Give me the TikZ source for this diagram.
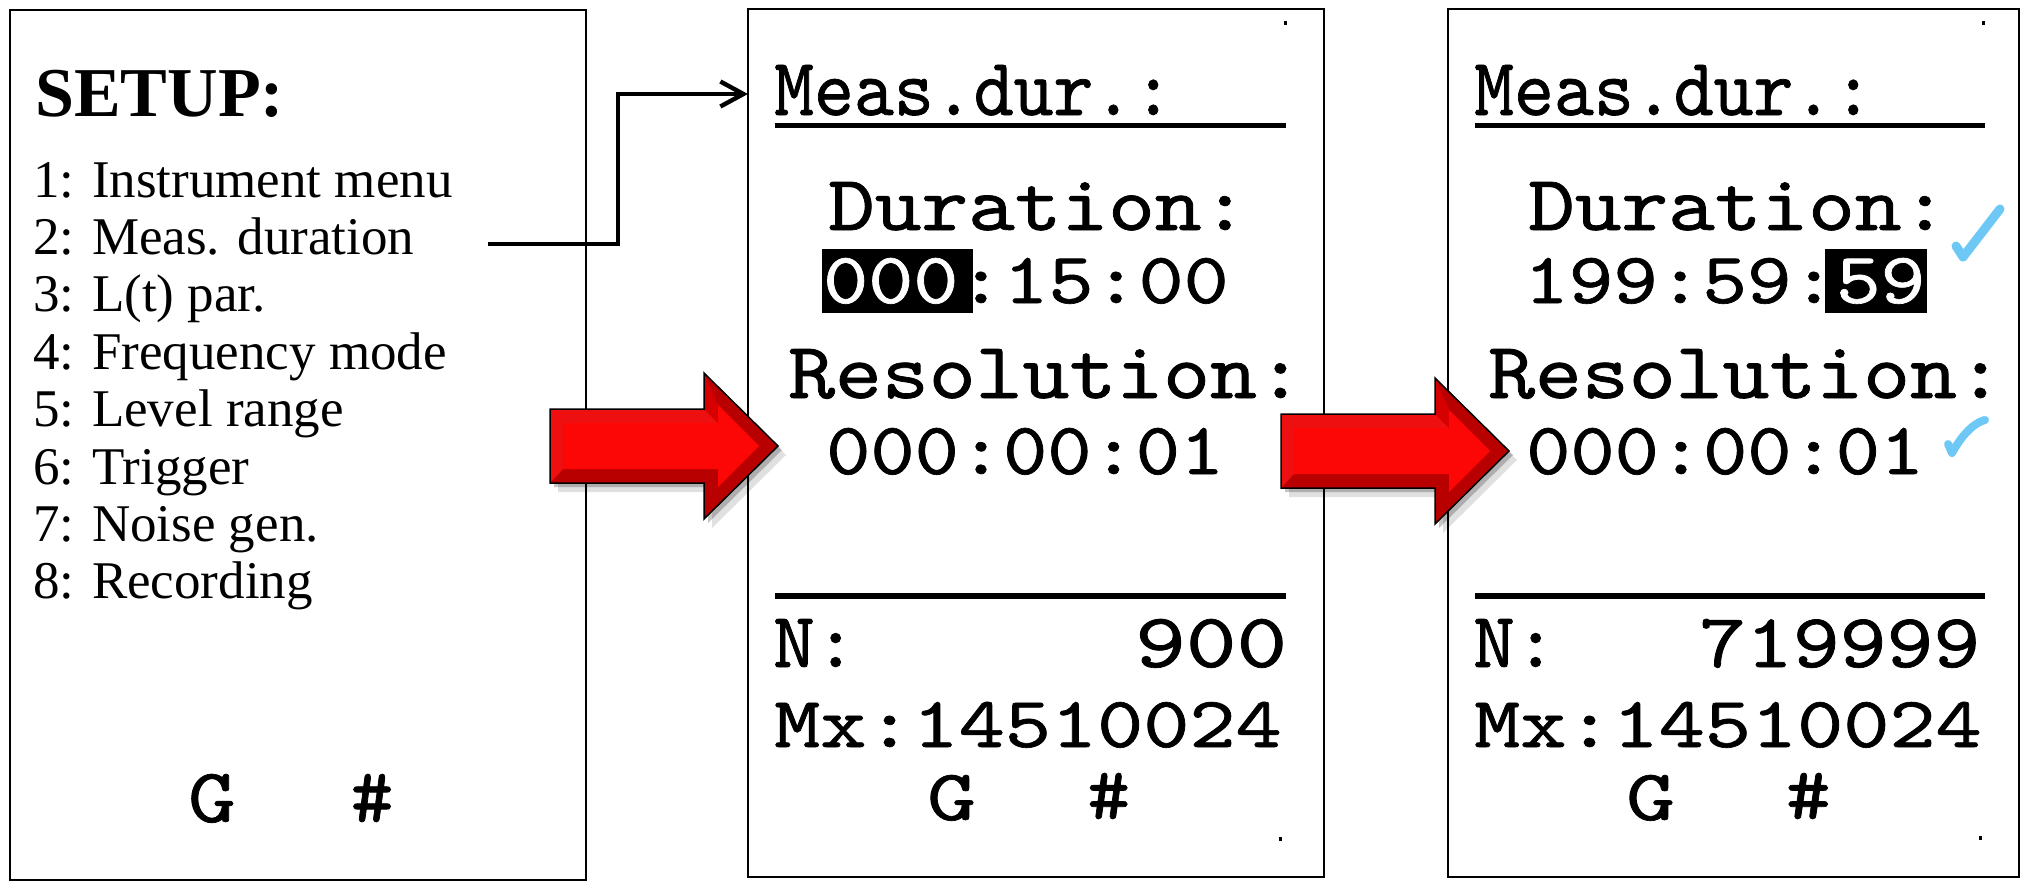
\documentclass[tikz,border=0pt]{standalone}
\usepackage{fontspec}
\setmainfont{Liberation Serif}
\newfontfamily\lcdfont{lmmono10-regular.otf}[FakeBold=0.9]
\usepackage{graphicx}
\usetikzlibrary{arrows.meta}
\definecolor{chk}{RGB}{110,200,245}
\definecolor{arrred}{RGB}{252,6,6}
\definecolor{arrdark}{RGB}{185,0,0}
\definecolor{arrmid}{RGB}{215,0,0}
\definecolor{arrlight}{RGB}{238,16,16}
\newcommand{\fitt}[3]{\resizebox{#1pt}{#2pt}{\lcdfont #3}}
\tikzset{
  redarrow/.pic={
    \fill[black,opacity=.12] (8,-28) -- (162,-28) -- (162,-64) -- (236,9) -- (162,82) -- (162,46) -- (8,46) -- cycle;
    \fill[black,opacity=.22] (4,-33) -- (158,-33) -- (158,-69) -- (232,4) -- (158,77) -- (158,41) -- (4,41) -- cycle;
    \fill[arrdark] (0,-37) -- (154,-37) -- (154,-73) -- (228,0) -- (154,73) -- (154,37) -- (0,37) -- cycle;
    \fill[arrlight] (0,-37) -- (154,-37) -- (168,-23) -- (13,-23) -- (13,23) -- (0,37) -- cycle;
    \fill[arrmid] (154,-37) -- (154,-73) -- (168,-41) -- (168,-23) -- cycle;
    \fill[arrred] (13,-23) -- (168,-23) -- (168,-41) -- (209,0) -- (168,41) -- (168,23) -- (13,23) -- cycle;
    \draw[black,line width=1.5pt,line join=miter] (0,-37) -- (154,-37) -- (154,-73) -- (228,0) -- (154,73) -- (154,37) -- (0,37) -- cycle;
  }
}
\begin{document}
\begin{tikzpicture}[x=1pt,y={(0pt,-1pt)},
  panel/.style={draw=black,line width=2pt,inner sep=0pt,outer sep=0pt},
  menu/.style={inner sep=0pt,anchor=base west,font=\fontsize{53}{60}\selectfont},
  lcd/.style={inner sep=0pt,anchor=base west},
  rulebar/.style={draw=black,line width=#1},
  conn/.style={line width=4.4pt,-{Straight Barb[length=23pt,width=25pt]}},
  chkmark/.style={draw=chk,line width=9pt,line cap=round,line join=round},
  hilite/.style={fill=black},
  speck/.style={fill=black}]
\useasboundingbox (0,0) rectangle (2022,883);
\fill[white] (0,0) rectangle (2022,883);

% panels
\node[panel,minimum width=576pt,minimum height=870pt] (P1) at (298,445) {};
\node[panel,minimum width=576pt,minimum height=868pt] (P2) at (1036,443) {};
\node[panel,minimum width=571pt,minimum height=868pt] (P3) at (1733.5,443) {};

% panel 1: setup menu
\node[inner sep=0pt,anchor=base west,font=\fontsize{70}{80}\selectfont\bfseries] (setup) at (35,117) {SETUP:};
\node[menu] (item1) at (33,197) {1: Instrument menu};
\node[menu] (item2) at (33,254.4) {2: Meas. duration};
\node[menu] (item3) at (33,311.8) {3: L(t) par.};
\node[menu] (item4) at (33,369.2) {4: Frequency mode};
\node[menu] (item5) at (33,426.6) {5: Level range};
\node[menu] (item6) at (33,484) {6: Trigger};
\node[menu] (item7) at (33,541.4) {7: Noise gen.};
\node[menu] (item8) at (33,598.8) {8: Recording};
\node[lcd] (g1) at (188,822) {\fitt{47.4}{48}{G}};
\node[lcd] (h1) at (350.4,822) {\fitt{43}{48}{\#}};

% panel 2
\node[lcd] (meas2) at (774,115) {\fitt{399}{50}{Meas.dur.:}};
\draw[rulebar=5pt] (775,125.5) -- (1286,125.5);
\node[lcd] (dur2) at (828,230) {\fitt{420}{48}{Duration:}};
\fill[hilite] (822,249) rectangle (973,313);
\node[lcd] (durv2) at (823,303) {\fitt{405.5}{45}{\textcolor{white}{000}:15:00}};
\node[lcd] (res2) at (788,398) {\fitt{515.6}{49}{Resolution:}};
\node[lcd] (resv2) at (826,474) {\fitt{398}{46}{000:00:01}};
\draw[rulebar=6pt] (775,596) -- (1286,596);
\node[lcd] (n2) at (773,667) {\fitt{83.3}{48}{N:}};
\node[lcd] (nv2) at (1135,667) {\fitt{152}{48}{900}};
\node[lcd] (mx2) at (774,747) {\fitt{507.5}{45}{Mx:14510024}};
\node[lcd] (g2) at (927,820) {\fitt{48.7}{45}{G}};
\node[lcd] (h2) at (1087,819) {\fitt{43}{46}{\#}};
\fill[speck] (1284,21) rectangle ++(3,4);
\fill[speck] (1279,837) rectangle ++(3,4);

% panel 3
\node[lcd] (meas3) at (1474,115) {\fitt{399}{50}{Meas.dur.:}};
\draw[rulebar=5pt] (1475,125.5) -- (1985,125.5);
\node[lcd] (dur3) at (1528,230) {\fitt{420}{48}{Duration:}};
\fill[hilite] (1825,249) rectangle (1927,313);
\node[lcd] (durv3) at (1524,303) {\fitt{401}{45}{199:59:\textcolor{white}{59}}};
\node[lcd] (res3) at (1488,398) {\fitt{515.6}{49}{Resolution:}};
\node[lcd] (resv3) at (1526,474) {\fitt{398}{46}{000:00:01}};
\draw[rulebar=6pt] (1475,596) -- (1985,596);
\node[lcd] (n3) at (1473,667) {\fitt{83.3}{48}{N:}};
\node[lcd] (nv3) at (1699,667) {\fitt{281}{48}{719999}};
\node[lcd] (mx3) at (1474,747) {\fitt{507.5}{45}{Mx:14510024}};
\node[lcd] (g3) at (1626,820) {\fitt{48.7}{45}{G}};
\node[lcd] (h3) at (1785.6,819) {\fitt{45}{46}{\#}};
\fill[speck] (1982,21) rectangle ++(3,4);
\fill[speck] (1979,836) rectangle ++(3,4);

% check marks
\draw[chkmark] (1956,246) -- (1963,257) -- (2000,209);
\draw[chkmark,line width=8pt] (1948,444) -- (1952,453) .. controls (1958,442) and (1970,424) .. (1985,420);

% connector from menu item 2 to panel 2
\coordinate (cstart) at (488,244);
\coordinate (hgt) at (0,94);
\draw[conn] (cstart) -- ++(130,0) |- (P2.west |- hgt);

% red block arrows
\pic at (550,446) {redarrow};
\pic at (1281,451) {redarrow};
\end{tikzpicture}
\end{document}
